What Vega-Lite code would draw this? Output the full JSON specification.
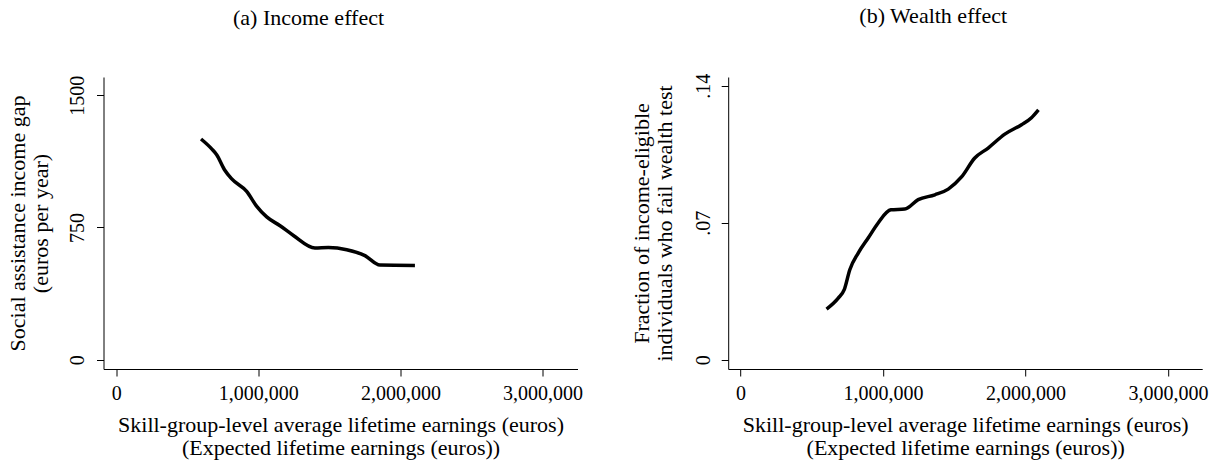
{
  "$schema": "https://vega.github.io/schema/vega-lite/v6.json",
  "padding": {"left": 6.5, "top": 5, "right": 2, "bottom": 2},
  "bounds": "flush",
  "spacing": 150.7,
  "config": {
    "view": {"stroke": null},
    "font": "Liberation Serif",
    "axis": {
      "grid": false,
      "domainColor": "#000000",
      "domainWidth": 1,
      "tickColor": "#000000",
      "tickWidth": 1,
      "tickSize": 7,
      "labelColor": "#000000",
      "titleColor": "#000000",
      "labelFont": "Liberation Serif",
      "titleFont": "Liberation Serif",
      "labelFontSize": 20,
      "titleFontSize": 22,
      "titleFontWeight": "normal",
      "titleLineHeight": 23
    },
    "title": {"font": "Liberation Serif", "fontSize": 22, "fontWeight": "normal", "color": "#000000"}
  },
  "datasets": {
    "income": [
      {"earnings": 597000, "gap": 1252},
      {"earnings": 672000, "gap": 1196},
      {"earnings": 707000, "gap": 1163},
      {"earnings": 762000, "gap": 1078},
      {"earnings": 813000, "gap": 1026},
      {"earnings": 918000, "gap": 955},
      {"earnings": 989000, "gap": 870},
      {"earnings": 1059000, "gap": 810},
      {"earnings": 1153000, "gap": 760},
      {"earnings": 1247000, "gap": 705},
      {"earnings": 1399000, "gap": 634},
      {"earnings": 1493000, "gap": 636},
      {"earnings": 1622000, "gap": 624},
      {"earnings": 1750000, "gap": 590},
      {"earnings": 1856000, "gap": 537},
      {"earnings": 2102000, "gap": 535}
    ],
    "wealth": [
      {"earnings": 604000, "fraction": 0.0259},
      {"earnings": 686000, "fraction": 0.0315},
      {"earnings": 728000, "fraction": 0.0358},
      {"earnings": 767000, "fraction": 0.0460},
      {"earnings": 826000, "fraction": 0.0545},
      {"earnings": 896000, "fraction": 0.0622},
      {"earnings": 966000, "fraction": 0.0699},
      {"earnings": 1055000, "fraction": 0.0766},
      {"earnings": 1153000, "fraction": 0.0770},
      {"earnings": 1247000, "fraction": 0.0818},
      {"earnings": 1364000, "fraction": 0.0843},
      {"earnings": 1458000, "fraction": 0.0872},
      {"earnings": 1551000, "fraction": 0.0934},
      {"earnings": 1644000, "fraction": 0.1031},
      {"earnings": 1738000, "fraction": 0.1082},
      {"earnings": 1855000, "fraction": 0.1153},
      {"earnings": 1972000, "fraction": 0.1201},
      {"earnings": 2042000, "fraction": 0.1237},
      {"earnings": 2091000, "fraction": 0.1277}
    ]
  },
  "hconcat": [
    {
      "width": 474,
      "height": 292,
      "title": {"text": "(a) Income effect", "anchor": "middle", "frame": "group", "baseline": "alphabetic", "offset": 28, "dx": -32},
      "data": {"name": "income"},
      "mark": {"type": "line", "color": "#000000", "strokeWidth": 3.5, "interpolate": "monotone"},
      "encoding": {
        "x": {
          "field": "earnings", "type": "quantitative",
          "scale": {"domain": [-89300, 3246000], "nice": false, "zero": false},
          "axis": {
            "values": [0, 1000000, 2000000, 3000000], "format": ",d",
            "labelPadding": 7, "titlePadding": 11,
            "title": ["Skill-group-level average lifetime earnings (euros)", "(Expected lifetime earnings (euros))"]
          }
        },
        "y": {
          "field": "gap", "type": "quantitative",
          "scale": {"domain": [-53, 1604], "nice": false, "zero": false},
          "axis": {
            "values": [0, 750, 1500], "format": "d",
            "labelAngle": -90, "labelAlign": "center", "labelBaseline": "alphabetic", "labelPadding": 12.7,
            "titlePadding": 15,
            "title": ["Social assistance income gap", "(euros per year)"]
          }
        }
      }
    },
    {
      "width": 474,
      "height": 292,
      "title": {"text": "(b) Wealth effect", "anchor": "middle", "frame": "group", "baseline": "alphabetic", "offset": 28, "dx": -32},
      "data": {"name": "wealth"},
      "mark": {"type": "line", "color": "#000000", "strokeWidth": 3.5, "interpolate": "monotone"},
      "encoding": {
        "x": {
          "field": "earnings", "type": "quantitative",
          "scale": {"domain": [-86300, 3240000], "nice": false, "zero": false},
          "axis": {
            "values": [0, 1000000, 2000000, 3000000], "format": ",d",
            "labelPadding": 7, "titlePadding": 11,
            "title": ["Skill-group-level average lifetime earnings (euros)", "(Expected lifetime earnings (euros))"]
          }
        },
        "y": {
          "field": "fraction", "type": "quantitative",
          "scale": {"domain": [-0.00475, 0.1445], "nice": false, "zero": false},
          "axis": {
            "values": [0, 0.07, 0.14],
            "labelExpr": "datum.value == 0 ? '0' : replace(format(datum.value, '.2f'), '0.', '.')",
            "labelAngle": -90, "labelAlign": "center", "labelBaseline": "alphabetic", "labelPadding": 12,
            "titlePadding": 16.5,
            "title": ["Fraction of income-eligible", "individuals who fail wealth test"]
          }
        }
      }
    }
  ]
}
